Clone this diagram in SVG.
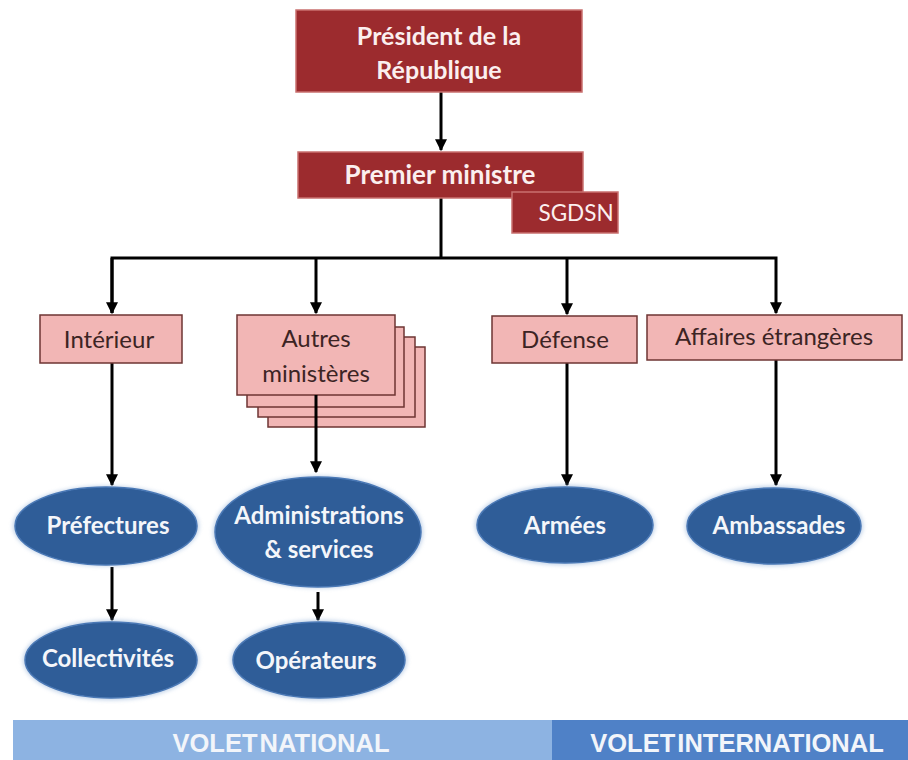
<svg xmlns="http://www.w3.org/2000/svg" width="908" height="760" viewBox="0 0 908 760">
<defs>
<style>
.dark{fill:#9C2B2E;stroke:#C9706F;stroke-width:1.5}
.pink{fill:#F2B6B5;stroke:#6E3533;stroke-width:1.5}
.oval{fill:#2F5D98;stroke:#4A78B5;stroke-width:1.5}
.tw{font-family:Lato,"Open Sans",sans-serif;font-weight:bold;fill:#FBEFEF;text-anchor:middle}
.tp{font-family:Lato,"Open Sans",sans-serif;fill:#3C2424;text-anchor:middle;font-size:24px}
.to{font-family:Lato,"Open Sans",sans-serif;font-weight:bold;fill:#F4F6FA;text-anchor:middle;font-size:24px}
.tb{font-family:"Liberation Sans",Arial,sans-serif;font-weight:bold;fill:#F2F5FA;text-anchor:middle;font-size:25.5px}
.ln{stroke:#000;stroke-width:3;fill:none}
</style>
<marker id="ah" viewBox="0 0 10 10" refX="9" refY="5" markerWidth="4" markerHeight="4" orient="auto" markerUnits="strokeWidth">
<path d="M0,0 L10,5 L0,10 z" fill="#000"/>
</marker>
<filter id="glow" x="-20%" y="-30%" width="140%" height="160%">
<feGaussianBlur stdDeviation="2"/>
</filter>
</defs>
<rect width="908" height="760" fill="#FFFFFF"/>

<g id="connectors">
<line class="ln" x1="441" y1="92" x2="441" y2="150" marker-end="url(#ah)"/>
<polyline class="ln" points="441,198 441,258"/>
<polyline class="ln" points="112,313 112,258 776,258 776,313" marker-end="url(#ah)"/>
<line class="ln" x1="112" y1="258" x2="112" y2="313" marker-end="url(#ah)"/>
<line class="ln" x1="316" y1="258" x2="316" y2="313" marker-end="url(#ah)"/>
<line class="ln" x1="567" y1="258" x2="567" y2="314" marker-end="url(#ah)"/>
<line class="ln" x1="112" y1="363" x2="112" y2="485" marker-end="url(#ah)"/>
<line class="ln" x1="567" y1="363" x2="567" y2="485" marker-end="url(#ah)"/>
<line class="ln" x1="776" y1="360" x2="776" y2="485" marker-end="url(#ah)"/>
<line class="ln" x1="112" y1="567" x2="112" y2="620" marker-end="url(#ah)"/>
<line class="ln" x1="318" y1="592" x2="318" y2="620" marker-end="url(#ah)"/>
</g>

<g id="president">
<rect class="dark" x="296" y="10" width="286" height="82"/>
<text class="tw" x="439" y="45" font-size="25">Président  de la</text>
<text class="tw" x="439" y="79" font-size="25">République</text>
</g>

<g id="premier">
<rect class="dark" x="298" y="152" width="285" height="46"/>
<text class="tw" x="440" y="184" font-size="26">Premier ministre</text>
</g>

<g id="sgdsn">
<rect class="dark" x="512" y="192" width="106" height="41"/>
<text x="576" y="221" font-family="Lato,'Open Sans',sans-serif" font-size="22.5" fill="#FBEFEF" text-anchor="middle">SGDSN</text>
</g>

<g id="interieur">
<rect class="pink" x="40" y="315" width="142" height="48"/>
<text class="tp" x="109" y="348">Intérieur</text>
</g>

<g id="autres">
<rect class="pink" x="268" y="347" width="157" height="80"/>
<rect class="pink" x="258" y="337" width="157" height="80"/>
<rect class="pink" x="247" y="327" width="157" height="80"/>
<rect class="pink" x="237" y="315" width="158" height="80"/>
<text class="tp" x="316" y="347">Autres</text>
<text class="tp" x="316" y="382">ministères</text>
</g>

<line class="ln" x1="316" y1="395" x2="316" y2="472" marker-end="url(#ah)"/>

<g id="defense">
<rect class="pink" x="492" y="316" width="145" height="47"/>
<text class="tp" x="565" y="348">Défense</text>
</g>

<g id="affaires">
<rect class="pink" x="647" y="315" width="255" height="45"/>
<text class="tp" x="774" y="345">Affaires étrangères</text>
</g>

<g id="prefectures">
<ellipse cx="106" cy="526" rx="93" ry="40" fill="#7FA3D0" opacity="0.5" filter="url(#glow)"/>
<ellipse class="oval" cx="106" cy="526" rx="91" ry="39"/>
<text class="to" x="108" y="534">Préfectures</text>
</g>

<g id="administrations">
<ellipse cx="318" cy="532" rx="105" ry="56" fill="#7FA3D0" opacity="0.5" filter="url(#glow)"/>
<ellipse class="oval" cx="318" cy="532" rx="103" ry="55"/>
<text class="to" x="319" y="524">Administrations</text>
<text class="to" x="319" y="558">&amp; services</text>
</g>

<g id="collectivites">
<ellipse cx="111" cy="660" rx="88" ry="40" fill="#7FA3D0" opacity="0.5" filter="url(#glow)"/>
<ellipse class="oval" cx="111" cy="660" rx="86" ry="38"/>
<text class="to" x="108" y="667">Collectivités</text>
</g>

<g id="operateurs">
<ellipse cx="319" cy="660" rx="88" ry="40" fill="#7FA3D0" opacity="0.5" filter="url(#glow)"/>
<ellipse class="oval" cx="319" cy="660" rx="86" ry="38"/>
<text class="to" x="316" y="669">Opérateurs</text>
</g>

<g id="armees">
<ellipse cx="565" cy="525" rx="90" ry="40" fill="#7FA3D0" opacity="0.5" filter="url(#glow)"/>
<ellipse class="oval" cx="565" cy="525" rx="88" ry="38"/>
<text class="to" x="565" y="534">Armées</text>
</g>

<g id="ambassades">
<ellipse cx="774" cy="526" rx="89" ry="40" fill="#7FA3D0" opacity="0.5" filter="url(#glow)"/>
<ellipse class="oval" cx="774" cy="526" rx="87" ry="38"/>
<text class="to" x="779" y="534">Ambassades</text>
</g>

<g id="volet-national">
<rect x="13" y="720" width="539" height="40" fill="#8DB3E2"/>
<text class="tb" x="281" y="752" word-spacing="-5">VOLET NATIONAL</text>
</g>

<g id="volet-international">
<rect x="552" y="720" width="356" height="40" fill="#4F81C7"/>
<text class="tb" x="737" y="752" word-spacing="-5">VOLET INTERNATIONAL</text>
</g>
</svg>
